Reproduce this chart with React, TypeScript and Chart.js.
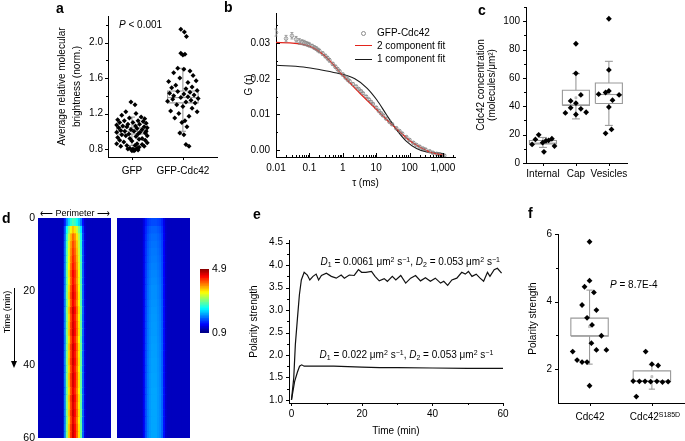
import React, { useEffect, useRef } from 'react';
import { Chart, registerables } from 'chart.js';
Chart.register(...registerables);

const FONT = "'Liberation Sans', Arial, Helvetica, sans-serif";
Chart.defaults.font.family = FONT;
Chart.defaults.color = '#000';

// ---------------- Panel a ----------------
const aCategories = ['GFP', 'GFP-Cdc42'];
const aGfpValues = [1.33,1.30,1.22,1.20,1.18,1.16,1.15,1.14,1.13,1.12,1.12,1.11,1.10,1.10,1.09,1.08,1.08,1.07,1.06,1.06,1.05,1.05,1.04,1.04,1.03,1.02,1.02,1.01,1.00,1.00,1.00,0.99,0.99,0.98,0.97,0.97,0.96,0.95,0.95,0.94,0.93,0.92,0.92,0.91,0.90,0.90,0.89,0.88,0.87,0.86,0.86,0.85,0.84,0.84,0.83,0.83,0.82,0.81,0.81,0.80,0.80,0.79,0.79,0.78,0.78];
const aGfpJitter = [-0.02,0.06,-0.12,0.08,-0.2,0.18,-0.05,0.25,-0.28,0.12,-0.15,0.22,0.02,-0.24,0.28,-0.08,0.15,-0.3,0.07,-0.18,0.24,-0.1,0.3,-0.26,0.1,-0.02,0.2,-0.22,0.28,-0.14,0.04,0.16,-0.3,0.26,-0.06,0.12,-0.2,0.3,-0.12,0.08,-0.28,0.2,-0.04,0.14,-0.24,0.26,0.0,-0.16,0.3,0.1,-0.3,0.2,-0.1,0.06,0.24,-0.22,0.14,-0.04,0.1,0.02,-0.08,0.06,0.12,0.0,0.04];
const aCdcValues = [2.15,2.12,2.07,1.88,1.87,1.86,1.71,1.70,1.68,1.66,1.63,1.60,1.57,1.56,1.55,1.52,1.50,1.49,1.48,1.46,1.45,1.44,1.43,1.42,1.41,1.40,1.39,1.38,1.37,1.36,1.35,1.34,1.33,1.32,1.30,1.28,1.26,1.23,1.22,1.20,1.17,1.15,1.12,1.10,1.05,0.98,0.96,0.85,0.83];
const aCdcJitter = [-0.04,0.03,0.07,-0.04,0.04,0.0,-0.1,0.02,0.14,-0.18,0.2,-0.06,0.26,-0.28,0.1,-0.14,0.18,-0.22,0.06,0.28,-0.1,0.14,-0.26,0.02,0.22,-0.18,0.1,-0.04,0.3,-0.2,0.16,-0.3,0.06,0.24,-0.12,0.0,0.18,-0.24,0.28,-0.08,0.12,-0.16,0.04,-0.02,0.08,-0.06,0.02,0.06,0.12];
const aBoxGfp = { low: 0.84, q1: 0.97, median: 1.0, q3: 1.04, high: 1.16, mean: 1.0 };
const aBoxCdc = { low: 1.0, q1: 1.32, median: 1.38, q3: 1.455, high: 1.71, mean: 1.4 };
const aYTicks = [0.8, 1.2, 1.6, 2.0];

// ---------------- Panel b ----------------
const bTau = [0.01,0.02,0.03,0.04,0.05,0.06,0.07,0.08,0.09,0.1,0.12,0.14,0.16,0.18,0.2,0.25,0.3,0.35,0.4,0.5,0.6,0.7,0.8,1.0,1.2,1.4,1.6,2.0,2.5,3.0,3.5,4,5,6,7,8,10,12,14,16,20,25,30,40,50,60,80,100,130,160,200,250,300,400,500,650,800,1000,1100];
const bG = [0.0330,0.0313,0.0321,0.0311,0.0305,0.0303,0.0301,0.0299,0.0297,0.0295,0.0292,0.0288,0.0285,0.0281,0.0278,0.0271,0.0264,0.0258,0.0252,0.0242,0.0234,0.0227,0.0221,0.0212,0.0204,0.0198,0.0193,0.0185,0.0178,0.0171,0.0165,0.0159,0.0150,0.0142,0.0135,0.0129,0.0119,0.0110,0.0103,0.0097,0.0088,0.0079,0.0072,0.0061,0.0053,0.0046,0.0036,0.0028,0.0020,0.0014,0.0009,0.0004,0.0001,-0.0004,-0.0008,-0.0011,-0.0013,-0.0015,-0.0016];
const bErr = [0.0010,0.0009,0.0009,0.0008,0.0008,0.0007,0.0007,0.0006,0.0006,0.0006,0.0005,0.0005,0.0005,0.0005,0.0005,0.0005,0.0005,0.0005,0.0005,0.0004,0.0004,0.0004,0.0004,0.0004,0.0004,0.0004,0.0004,0.0004,0.0004,0.0003,0.0003,0.0003,0.0003,0.0003,0.0003,0.0003,0.0003,0.0003,0.0003,0.0003,0.0003,0.0003,0.0003,0.0003,0.0003,0.0003,0.0003,0.0003,0.0003,0.0003,0.0003,0.0003,0.0003,0.0003,0.0003,0.0003,0.0003,0.0003,0.0003];
const bFit2Tau = [0.01,0.026,0.066,0.13,0.26,0.52,0.83,1.66,3.2,6.5,13,26,51,102,204,408,813,1000];
const bFit2 = [0.0302,0.0301,0.0296,0.0287,0.0268,0.0240,0.0218,0.0188,0.0160,0.0132,0.0104,0.0076,0.0051,0.0026,0.0008,-0.0006,-0.0013,-0.0014];
const bFit1Tau = [0.01,0.066,0.2,0.66,2.3,5.3,10.4,20.4,40.7,81,162,324,1000];
const bFit1 = [0.0238,0.0233,0.0226,0.0216,0.0200,0.0174,0.0141,0.0099,0.0057,0.0024,0.0004,-0.0006,-0.0010];
const bXTicks = [0.01, 0.1, 1, 10, 100, 1000];
const bXTickLabels = ['0.01', '0.1', '1', '10', '100', '1,000'];
const bYTicks = [0, 0.01, 0.02, 0.03];
const bLegend = ['GFP-Cdc42', '2 component fit', '1 component fit'];

// ---------------- Panel c ----------------
const cCategories = ['Internal', 'Cap', 'Vesicles'];
const cInternal = [13.1,16.6,19.9,14.3,7.9,15.7,15.9,17.1,11.9];
const cInternalJitter = [-0.33,-0.23,-0.13,-0.01,0.03,0.09,0.17,0.27,0.35];
const cCap = [84.1,63.2,48.0,43.8,42.2,38.9,38.2,35.3,34.2,35.8];
const cCapJitter = [0,0,0.15,-0.16,0,-0.16,0.15,-0.32,0,0.31];
const cVesicles = [101.7,65.6,48.5,49.7,50.8,48.0,44.3,39.4,23.7,20.9];
const cVesiclesJitter = [0,0,-0.31,-0.1,0,0.31,0.11,0,0.08,-0.1];
const cBoxInternal = { low: 11.0, q1: 13.4, median: 14.0, q3: 15.9, high: 18.0, mean: 14.5 };
const cBoxCap = { low: 31.1, q1: 40.5, median: 41.0, q3: 51.3, high: 63.0, mean: 46.0 };
const cBoxVesicles = { low: 26.5, q1: 42.0, median: 48.3, q3: 56.4, high: 71.7, mean: 49.0 };
const cYTicks = [0, 20, 40, 60, 80, 100];

// ---------------- Panel d ----------------
const dTimeTicks = [0, 20, 40, 60];
const dRowStep = 2; // minutes per heatmap row
const dBackground = 1.15;
const dLeftProfile = [1.15,1.15,1.15,1.15,1.15,1.15,1.15,1.15,1.15,1.15,1.15,1.15,1.15,1.9,2.9,3.6,4.2,4.6,4.4,4.0,3.5,2.8,1.8,1.25,1.15,1.15,1.15,1.15,1.15,1.15,1.15,1.15,1.15,1.15,1.15,1.15];
const dRightProfile = [1.15,1.15,1.15,1.15,1.15,1.15,1.15,1.15,1.15,1.15,1.15,1.15,1.15,1.35,1.7,1.9,2.0,2.05,2.05,2.05,2.0,1.95,1.8,1.45,1.2,1.15,1.15,1.15,1.15,1.15,1.15,1.15,1.15,1.15,1.15,1.15];
const dLeftRowLevel = [0.45,0.72,0.82,0.86,0.88,0.9,0.92,0.95,0.93,0.96,0.98,0.95,1.0,0.97,0.99,1.0,0.96,1.0,0.98,1.0,0.97,1.0,0.99,0.96,1.0,0.98,1.0,0.97,1.0,1.0];
const dRightRowLevel = [0.6,0.7,0.75,0.78,0.8,0.82,0.84,0.86,0.88,0.9,0.9,0.92,0.93,0.94,0.95,0.95,0.96,0.97,0.97,0.98,0.98,0.99,0.99,1,1,1,1,1,1,1];
const dColorMin = 0.9;
const dColorMax = 4.9;

// ---------------- Panel e ----------------
const eTimeUpper = [0,0.65,1.1,1.7,2.25,2.8,3.6,4.5,5.2,6.1,7.0,7.7,8.5,9.9,11.3,12.7,14.1,15.0,16.4,17.8,19.0,19.9,21.1,22.7,23.7,24.9,26.3,27.2,28.6,29.6,31.0,32.4,33.8,35.2,36.6,38.0,39.4,40.8,42.3,43.2,44.3,45.5,46.9,48.3,49.3,50.2,51.2,52.4,53.5,54.5,55.6,56.3,57.5,58.4,59.6];
const eUpper = [1.0,1.49,2.23,2.82,3.34,3.67,3.84,3.78,3.67,3.75,3.80,3.67,3.77,3.82,3.75,3.71,3.78,3.71,3.78,3.77,3.90,3.84,3.84,3.86,3.75,3.65,3.70,3.64,3.75,3.67,3.77,3.60,3.71,3.77,3.65,3.72,3.64,3.71,3.60,3.64,3.55,3.67,3.71,3.84,3.80,3.86,3.75,3.80,3.71,3.64,3.84,3.75,3.90,3.93,3.82];
const eTimeLower = [0,0.9,1.7,2.3,2.9,3.6,5,8,12,16,20,25,30,40,50,60];
const eLower = [1.0,1.41,1.62,1.75,1.78,1.75,1.75,1.75,1.75,1.74,1.73,1.72,1.72,1.71,1.70,1.70];
const eXTicks = [0, 20, 40, 60];
const eYTicks = [1.0, 1.5, 2.0, 2.5, 3.0, 3.5, 4.0, 4.5];

// ---------------- Panel f ----------------
const fCdc42 = [5.77,4.62,4.44,4.27,3.90,3.75,3.52,3.31,2.99,2.77,2.52,2.57,2.57,2.27,2.21,2.21,1.51];
const fCdc42Jitter = [0,0,-0.08,0.07,-0.12,0.11,-0.04,0.04,0.19,0.03,-0.27,0.11,0.27,-0.2,-0.12,-0.04,0];
const fS185D = [2.52,2.15,2.11,1.65,1.64,1.64,1.63,1.64,1.62,1.63,1.19];
const fS185DJitter = [-0.1,0,0.1,-0.3,-0.2,-0.11,-0.02,0.08,0.17,0.26,-0.25];
const fBoxCdc42 = { low: 2.15, q1: 2.98, median: 2.99, q3: 3.51, high: 4.34, mean: 3.26 };
const fBoxS185D = { low: 1.41, q1: 1.64, median: 1.65, q3: 1.95, high: 2.13, mean: 1.78 };
const fYTicks = [2, 4, 6];

// ---------------- helpers ----------------
const tickMarks = {
  id: 'tickMarks',
  afterDraw(chart: any, _a: any, opts: any) {
    const marks = (opts && opts.marks) || [];
    const ctx = chart.ctx;
    const { left, bottom } = chart.chartArea;
    ctx.save();
    ctx.strokeStyle = '#000';
    ctx.lineWidth = 1;
    for (const m of marks) {
      const sc = chart.scales[m.axis];
      for (const v of m.values) {
        const p = Math.round(sc.getPixelForValue(v)) + 0.5;
        ctx.beginPath();
        if (m.axis === 'x') {
          ctx.moveTo(p, bottom);
          ctx.lineTo(p, bottom + m.len);
        } else {
          ctx.moveTo(left, p);
          ctx.lineTo(left - m.len, p);
        }
        ctx.stroke();
      }
    }
    ctx.restore();
  },
};

const errorBars = {
  id: 'errorBars',
  afterDatasetsDraw(chart: any, _a: any, opts: any) {
    if (!opts || !opts.errors) return;
    const meta = chart.getDatasetMeta(opts.datasetIndex);
    const ys = chart.scales.y;
    const ctx = chart.ctx;
    const ds = chart.data.datasets[opts.datasetIndex].data;
    ctx.save();
    ctx.strokeStyle = opts.color;
    ctx.lineWidth = 0.8;
    meta.data.forEach((pt: any, i: number) => {
      const e = opts.errors[i];
      if (!e) return;
      const v = ds[i].y;
      const y1 = ys.getPixelForValue(v + e);
      const y2 = ys.getPixelForValue(v - e);
      ctx.beginPath();
      ctx.moveTo(pt.x, y1); ctx.lineTo(pt.x, y2);
      ctx.moveTo(pt.x - 1.5, y1); ctx.lineTo(pt.x + 1.5, y1);
      ctx.moveTo(pt.x - 1.5, y2); ctx.lineTo(pt.x + 1.5, y2);
      ctx.stroke();
    });
    ctx.restore();
  },
};

const fixY = (w: number) => (s: any) => { s.width = w; s.paddingTop = 0; s.paddingBottom = 0; };
const fixX = (h: number) => (s: any) => { s.height = h; s.paddingLeft = 0; s.paddingRight = 0; };
const setTicks = (vals: number[]) => (s: any) => { s.ticks = vals.map((v) => ({ value: v })); };

const axisBase = {
  grid: { display: false, drawTicks: false },
  border: { display: true, color: '#000', width: 1 },
};
const tickFont = { size: 10, family: FONT };

function opts(pad: any, scales: any, pluginsExtra: any = {}) {
  return {
    responsive: false,
    animation: false,
    devicePixelRatio: 1,
    events: [],
    layout: { padding: pad, autoPadding: false },
    scales,
    plugins: { legend: { display: false }, tooltip: { enabled: false }, ...pluginsExtra },
  };
}

function jet(v: number) {
  const t = Math.min(1, Math.max(0, (v - dColorMin) / (dColorMax - dColorMin)));
  const c = (x: number) => Math.round(255 * Math.min(1, Math.max(0, x)));
  return `rgb(${c(1.5 - Math.abs(4 * t - 3))},${c(1.5 - Math.abs(4 * t - 2))},${c(1.5 - Math.abs(4 * t - 1))})`;
}

function jittered(vals: number[], jit: number[], x: number) {
  return vals.map((v, i) => ({ x: x + (jit[i] ?? 0), y: v }));
}

function boxSets(x: number, b: any, hw: number, cw: number, color: string) {
  const common = { showLine: true, pointRadius: 0, borderColor: color, borderWidth: 1.1, fill: false, order: 2, tension: 0 };
  return [
    { ...common, data: [{ x: x - hw, y: b.q1 }, { x: x + hw, y: b.q1 }, { x: x + hw, y: b.q3 }, { x: x - hw, y: b.q3 }, { x: x - hw, y: b.q1 }] },
    { ...common, data: [{ x: x - hw, y: b.median }, { x: x + hw, y: b.median }] },
    { ...common, data: [{ x, y: b.q3 }, { x, y: b.high }] },
    { ...common, data: [{ x, y: b.q1 }, { x, y: b.low }] },
    { ...common, data: [{ x: x - cw, y: b.high }, { x: x + cw, y: b.high }] },
    { ...common, data: [{ x: x - cw, y: b.low }, { x: x + cw, y: b.low }] },
    { data: [{ x, y: b.mean }], pointStyle: 'rect', pointRadius: 1.4, backgroundColor: '#ccc', borderColor: '#aaa', borderWidth: 0.6, order: 1 },
  ];
}

const dots = (data: any[], r: number) => ({
  data, pointStyle: 'rectRot', pointRadius: r, backgroundColor: '#000', borderColor: '#000', borderWidth: 0, order: 0,
});

// ---------------- configs ----------------
function configA() {
  return {
    type: 'scatter',
    data: {
      datasets: [
        dots(jittered(aGfpValues, aGfpJitter, 1), 2.5),
        dots(jittered(aCdcValues, aCdcJitter, 2), 2.5),
        ...boxSets(1, aBoxGfp, 0.3, 0.06, '#9a9a9a'),
        ...boxSets(2, aBoxCdc, 0.3, 0.06, '#9a9a9a'),
      ],
    },
    options: opts({ top: 16, right: 5, left: 0, bottom: 0 }, {
      x: {
        ...axisBase, type: 'linear', min: 0.53, max: 2.67,
        afterBuildTicks: setTicks([1, 2]), afterFit: fixX(28),
        ticks: { font: tickFont, padding: 8, callback: (v: number) => aCategories[Math.round(v) - 1] ?? '' },
      },
      y: {
        ...axisBase, min: 0.71, max: 2.3, afterBuildTicks: setTicks(aYTicks), afterFit: fixY(58),
        ticks: { font: tickFont, padding: 5, callback: (v: number) => Number(v).toFixed(1) },
        title: { display: true, text: ['Average relative molecular', 'brightness (norm.)'], font: { size: 10, lineHeight: 1.55 }, padding: { top: 4, bottom: 0 }, color: '#000' },
      },
    }, {
      tickMarks: { marks: [
        { axis: 'y', values: aYTicks, len: 3 },
        { axis: 'y', values: [1.0, 1.4, 1.8, 2.2], len: 2 },
        { axis: 'x', values: [1, 2], len: 3 },
      ] },
    }),
    plugins: [tickMarks],
  };
}

function configB() {
  const minor: number[] = [];
  [0.01, 0.1, 1, 10, 100, 1000].forEach((d) => [2, 3, 4, 5, 6, 7, 8, 9].forEach((m) => { if (d * m <= 2300) minor.push(d * m); }));
  return {
    type: 'scatter',
    data: {
      datasets: [
        { data: bTau.map((t, i) => ({ x: t, y: bG[i] })), pointStyle: 'circle', pointRadius: 1.8, borderWidth: 0.8, borderColor: '#8a8a8a', backgroundColor: 'rgba(255,255,255,0)', order: 2 },
        { data: bFit2Tau.map((t, i) => ({ x: t, y: bFit2[i] })), showLine: true, pointRadius: 0, borderColor: '#e3241c', borderWidth: 1.3, cubicInterpolationMode: 'monotone', order: 0 },
        { data: bFit1Tau.map((t, i) => ({ x: t, y: bFit1[i] })), showLine: true, pointRadius: 0, borderColor: '#1a1a1a', borderWidth: 1.1, cubicInterpolationMode: 'monotone', order: 1 },
      ],
    },
    options: opts({ top: 13, right: 5, left: 0, bottom: 0 }, {
      x: {
        ...axisBase, type: 'logarithmic', min: 0.01, max: 2300,
        afterBuildTicks: setTicks(bXTicks), afterFit: fixX(36),
        ticks: { font: tickFont, padding: 5, callback: (v: number) => { const i = bXTicks.findIndex((t) => Math.abs(t - v) / t < 1e-6); return i >= 0 ? bXTickLabels[i] : ''; } },
        title: { display: true, text: 'τ (ms)', font: { size: 10 }, padding: { top: 0, bottom: 4 }, color: '#000' },
      },
      y: {
        ...axisBase, min: -0.002, max: 0.0385, afterBuildTicks: setTicks(bYTicks), afterFit: fixY(41),
        ticks: { font: tickFont, padding: 6, callback: (v: number) => Number(v).toFixed(2) },
        title: { display: true, text: 'G (τ)', font: { size: 10 }, padding: { top: 8, bottom: 0 }, color: '#000' },
      },
    }, {
      tickMarks: { marks: [
        { axis: 'y', values: bYTicks, len: -4 },
        { axis: 'y', values: [0.005, 0.015, 0.025, 0.035], len: -2 },
        { axis: 'x', values: bXTicks, len: -4 },
        { axis: 'x', values: minor, len: -2 },
      ] },
      errorBars: { datasetIndex: 0, errors: bErr, color: '#8a8a8a' },
    }),
    plugins: [tickMarks, errorBars],
  };
}

function configC() {
  return {
    type: 'scatter',
    data: {
      datasets: [
        dots(jittered(cInternal, cInternalJitter, 1), 2.9),
        dots(jittered(cCap, cCapJitter, 2), 2.9),
        dots(jittered(cVesicles, cVesiclesJitter, 3), 2.9),
        ...boxSets(1, cBoxInternal, 0.41, 0.12, '#9a9a9a'),
        ...boxSets(2, cBoxCap, 0.41, 0.12, '#9a9a9a'),
        ...boxSets(3, cBoxVesicles, 0.41, 0.12, '#9a9a9a'),
      ],
    },
    options: opts({ top: 7, right: 7, left: 0, bottom: 0 }, {
      x: {
        ...axisBase, type: 'linear', min: 0.485, max: 3.55,
        afterBuildTicks: setTicks([1, 2, 3]), afterFit: fixX(19),
        ticks: { font: tickFont, padding: 5, callback: (v: number) => cCategories[Math.round(v) - 1] ?? '' },
      },
      y: {
        ...axisBase, min: 0, max: 110, afterBuildTicks: setTicks(cYTicks), afterFit: fixY(54),
        ticks: { font: tickFont, padding: 6, callback: (v: number) => String(v) },
        title: { display: true, text: ['Cdc42 concentration', '(molecules/μm²)'], font: { size: 10, lineHeight: 1.1 }, padding: { top: 4, bottom: 0 }, color: '#000' },
      },
    }, {
      tickMarks: { marks: [
        { axis: 'y', values: cYTicks, len: 3 },
        { axis: 'y', values: [10, 30, 50, 70, 90, 110], len: 2 },
        { axis: 'x', values: [1, 2, 3], len: 3 },
      ] },
    }),
    plugins: [tickMarks],
  };
}

function configHeat(profile: number[], rowLevel: number[], withAxis: boolean) {
  const datasets = rowLevel.map((f) => ({
    data: profile.map(() => dRowStep),
    backgroundColor: profile.map((p) => jet(dBackground + (p - dBackground) * f)),
    borderWidth: 0,
    barPercentage: 1,
    categoryPercentage: 1,
    inflateAmount: 0.6,
  }));
  return {
    type: 'bar',
    data: { labels: profile.map((_, i) => String(i)), datasets },
    options: opts(withAxis ? { top: 13, right: 1, left: 0, bottom: 3 } : 0, {
      x: { display: false, stacked: true },
      y: withAxis
        ? {
            stacked: true, reverse: true, min: 0, max: 60,
            grid: { display: false, drawTicks: false }, border: { display: false },
            afterBuildTicks: setTicks(dTimeTicks), afterFit: fixY(38),
            ticks: { font: { size: 10.5, family: FONT }, padding: 3, callback: (v: number) => String(v) },
          }
        : { display: false, stacked: true, reverse: true, min: 0, max: 60 },
    }),
  };
}

function configColorbar() {
  const n = 40;
  const step = (dColorMax - dColorMin) / n;
  const datasets = Array.from({ length: n }, (_, i) => ({
    data: [[dColorMin + i * step, dColorMin + (i + 1) * step]],
    backgroundColor: jet(dColorMin + (i + 0.5) * step),
    borderWidth: 0, barPercentage: 1, categoryPercentage: 1, grouped: false, inflateAmount: 0.6,
  }));
  return {
    type: 'bar',
    data: { labels: ['scale'], datasets },
    options: opts({ top: 7, right: 0, left: 5, bottom: 7 }, {
      x: { display: false },
      y: {
        position: 'right', min: dColorMin, max: dColorMax,
        grid: { display: false, drawTicks: false }, border: { display: false },
        afterBuildTicks: setTicks([dColorMin, dColorMax]), afterFit: fixY(26),
        ticks: { font: { size: 10.5, family: FONT }, padding: 3, callback: (v: number) => Number(v).toFixed(1) },
      },
    }),
  };
}

function configE() {
  const line = (t: number[], v: number[]) => ({
    data: t.map((x, i) => ({ x, y: v[i] })), showLine: true, pointRadius: 0, borderColor: '#111', borderWidth: 1.2, tension: 0,
  });
  return {
    type: 'scatter',
    data: { datasets: [line(eTimeUpper, eUpper), line(eTimeLower, eLower)] },
    options: opts({ top: 15, right: 7, left: 0, bottom: 0 }, {
      x: {
        ...axisBase, type: 'linear', min: -0.7, max: 60,
        afterBuildTicks: setTicks(eXTicks), afterFit: fixX(38),
        ticks: { font: tickFont, padding: 5, callback: (v: number) => String(v) },
        title: { display: true, text: 'Time (min)', font: { size: 10 }, padding: { top: 0, bottom: 4 }, color: '#000' },
      },
      y: {
        ...axisBase, min: 0.93, max: 4.56, afterBuildTicks: setTicks(eYTicks), afterFit: fixY(49),
        ticks: { font: tickFont, padding: 6, callback: (v: number) => Number(v).toFixed(1) },
        title: { display: true, text: 'Polarity strength', font: { size: 10 }, padding: { top: 8, bottom: 0 }, color: '#000' },
      },
    }, {
      tickMarks: { marks: [
        { axis: 'y', values: eYTicks, len: 3 },
        { axis: 'y', values: [1.25, 1.75, 2.25, 2.75, 3.25, 3.75, 4.25], len: 2 },
        { axis: 'x', values: eXTicks, len: 3 },
        { axis: 'x', values: [10, 30, 50], len: 2 },
      ] },
    }),
    plugins: [tickMarks],
  };
}

function configF() {
  return {
    type: 'scatter',
    data: {
      datasets: [
        dots(jittered(fCdc42, fCdc42Jitter, 1), 2.9),
        dots(jittered(fS185D, fS185DJitter, 2), 2.9),
        ...boxSets(1, fBoxCdc42, 0.3, 0.05, '#9a9a9a'),
        ...boxSets(2, fBoxS185D, 0.3, 0.05, '#9a9a9a'),
      ],
    },
    options: opts({ top: 14, right: 1, left: 0, bottom: 0 }, {
      x: {
        ...axisBase, type: 'linear', min: 0.494, max: 2.515,
        afterBuildTicks: setTicks([1, 2]), afterFit: fixX(38),
        ticks: { font: tickFont, padding: 5, callback: () => '' },
      },
      y: {
        ...axisBase, min: 1, max: 6, afterBuildTicks: setTicks(fYTicks), afterFit: fixY(40),
        ticks: { font: tickFont, padding: 6, callback: (v: number) => String(v) },
        title: { display: true, text: 'Polarity strength', font: { size: 10 }, padding: { top: 9, bottom: 0 }, color: '#000' },
      },
    }, {
      tickMarks: { marks: [
        { axis: 'y', values: fYTicks, len: 3 },
        { axis: 'y', values: [3, 5], len: 2 },
        { axis: 'x', values: [1, 2], len: 3 },
      ] },
    }),
    plugins: [tickMarks],
  };
}

// ---------------- components ----------------
function ChartBox({ left, top, width, height, make }: any) {
  const ref = useRef<HTMLCanvasElement>(null);
  useEffect(() => {
    const c = new Chart(ref.current as HTMLCanvasElement, make());
    return () => c.destroy();
  }, []);
  return <canvas ref={ref} width={width} height={height} style={{ position: 'absolute', left, top, width, height }} />;
}

function Txt({ x, y, size = 10, center = false, bold = false, children, style }: any) {
  return (
    <div style={{
      position: 'absolute', left: x, top: y, transform: center ? 'translate(-50%,-50%)' : 'translate(0,-50%)',
      fontSize: size, lineHeight: 1, whiteSpace: 'nowrap', fontFamily: FONT, fontWeight: bold ? 700 : 400, color: '#000', ...style,
    }}>{children}</div>
  );
}

const sup = { fontSize: '0.7em', verticalAlign: '0.45em', lineHeight: 0 };
const sub = { fontSize: '0.7em', verticalAlign: '-0.3em', lineHeight: 0 };

function DLabel({ d1, d2 }: any) {
  return (
    <>
      <i>D</i><span style={sub}>1</span> = {d1} μm<span style={sup}>2</span> s<span style={sup}>−1</span>, <i>D</i><span style={sub}>2</span> = {d2} μm<span style={sup}>2</span> s<span style={sup}>−1</span>
    </>
  );
}

export default function App() {
  return (
    <div style={{ position: 'absolute', left: 0, top: 0, width: 685, height: 441, background: '#fff', overflow: 'hidden', fontFamily: FONT }}>
      <ChartBox left={50} top={0} width={172} height={185} make={configA} />
      <ChartBox left={235} top={0} width={225} height={193} make={configB} />
      <ChartBox left={472} top={0} width={162} height={182} make={configC} />
      <ChartBox left={0} top={205} width={112} height={236} make={() => configHeat(dLeftProfile, dLeftRowLevel, true)} />
      <ChartBox left={117} top={218} width={73} height={220} make={() => configHeat(dRightProfile, dRightRowLevel, false)} />
      <ChartBox left={195} top={262} width={40} height={78} make={configColorbar} />
      <ChartBox left={240} top={225} width={270} height={216} make={configE} />
      <ChartBox left={518} top={220} width={167} height={221} make={configF} />

      {/* panel letters */}
      <div style={{ position: 'absolute', left: 56, top: 1, fontSize: 14, fontWeight: 700, lineHeight: 1 }}>a</div>
      <div style={{ position: 'absolute', left: 224, top: 0, fontSize: 14, fontWeight: 700, lineHeight: 1 }}>b</div>
      <div style={{ position: 'absolute', left: 478, top: 3, fontSize: 14, fontWeight: 700, lineHeight: 1 }}>c</div>
      <div style={{ position: 'absolute', left: 2, top: 211, fontSize: 14, fontWeight: 700, lineHeight: 1 }}>d</div>
      <div style={{ position: 'absolute', left: 253, top: 207, fontSize: 14, fontWeight: 700, lineHeight: 1 }}>e</div>
      <div style={{ position: 'absolute', left: 528, top: 206, fontSize: 14, fontWeight: 700, lineHeight: 1 }}>f</div>

      {/* panel a annotation */}
      <Txt x={119} y={25}><i>P</i> &lt; 0.001</Txt>

      {/* panel b legend */}
      <div style={{ position: 'absolute', left: 361, top: 31, width: 3, height: 3, border: '0.8px solid #8a8a8a', borderRadius: '50%' }} />
      <div style={{ position: 'absolute', left: 355, top: 45, width: 17, height: 1.3, background: '#e3241c' }} />
      <div style={{ position: 'absolute', left: 355, top: 58.5, width: 17, height: 1.2, background: '#1a1a1a' }} />
      <Txt x={377} y={33}>{bLegend[0]}</Txt>
      <Txt x={377} y={46}>{bLegend[1]}</Txt>
      <Txt x={377} y={59}>{bLegend[2]}</Txt>

      {/* panel d annotations */}
      <Txt x={75} y={213} size={9} center>⟵ Perimeter ⟶</Txt>
      <Txt x={7} y={312} size={9} center style={{ transform: 'translate(-50%,-50%) rotate(-90deg)' }}>Time (min)</Txt>
      <div style={{ position: 'absolute', left: 13.5, top: 288, width: 1, height: 74, background: '#000' }} />
      <div style={{ position: 'absolute', left: 11, top: 361, width: 0, height: 0, borderLeft: '3px solid transparent', borderRight: '3px solid transparent', borderTop: '7px solid #000' }} />

      {/* panel e annotations */}
      <Txt x={320.5} y={262}><DLabel d1="0.0061" d2="0.053" /></Txt>
      <Txt x={319.5} y={355}><DLabel d1="0.022" d2="0.053" /></Txt>

      {/* panel f annotations */}
      <Txt x={610} y={285}><i>P</i> = 8.7E-4</Txt>
      <Txt x={590} y={417} center>Cdc42</Txt>
      <Txt x={655} y={417} center>Cdc42<span style={sup}>S185D</span></Txt>
    </div>
  );
}
